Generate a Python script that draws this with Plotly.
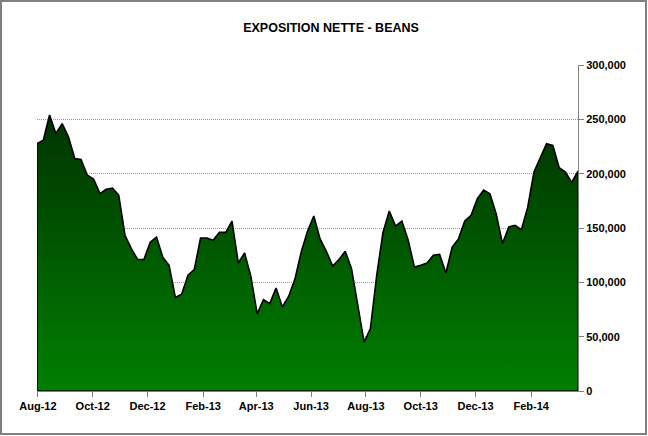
import plotly.graph_objects as go
import pandas as pd

title_text = "EXPOSITION NETTE - BEANS"
start_date = "2012-07-31"
values = [227600, 230700, 254000, 237000, 246000, 234000, 214000, 213000, 198500, 195000,
          181600, 185600, 186800, 180000, 143000, 131000, 121000, 121000, 137000, 141700,
          123000, 115700, 86000, 89000, 106500, 111700, 140800, 140800, 138700, 146000,
          146000, 156400, 117800, 127000, 105500, 71000, 84000, 80400, 94800, 77300,
          87000, 103000, 128000, 147000, 161000, 140000, 128500, 115000, 121000, 128500,
          112600, 77300, 45000, 57400, 106500, 146000, 165600, 151800, 156400, 139000,
          114000, 115700, 117800, 124900, 125800, 108600, 132500, 140000, 156400, 161700,
          177000, 185000, 181600, 163000, 135600, 151000, 152500, 148500, 169000, 201500,
          215000, 227600, 226000, 205600, 201500, 192000, 202400]
dates = list(pd.date_range(start_date, periods=len(values), freq="7D"))

x_tick_vals = ["2012-08-01", "2012-10-01", "2012-12-01", "2013-02-01", "2013-04-01",
               "2013-06-01", "2013-08-01", "2013-10-01", "2013-12-01", "2014-02-01"]
x_tick_text = ["Aug-12", "Oct-12", "Dec-12", "Feb-13", "Apr-13",
               "Jun-13", "Aug-13", "Oct-13", "Dec-13", "Feb-14"]
y_tick_vals = [0, 50000, 100000, 150000, 200000, 250000, 300000]
y_tick_text = ["0", "50,000", "100,000", "150,000", "200,000", "250,000", "300,000"]

# closed polygon of the area (outline like the original)
poly_x = dates + [dates[-1], dates[0], dates[0]]
poly_y = values + [0, 0, values[0]]

fig = go.Figure()
fig.add_trace(go.Scatter(
    x=poly_x, y=poly_y, mode="lines", fill="toself",
    line=dict(color="black", width=1.6),
    fillgradient=dict(type="vertical",
                      colorscale=[[0, "#008000"], [1, "#003300"]]),
    hoverinfo="skip", showlegend=False,
))

W, H = 648, 436
L, R, T, B = 37, 70, 65, 45
pw, ph = W - L - R, H - T - B

def px2paper_x(p):
    return (p - L) / pw

def px2paper_y(p):
    return (H - B - p) / ph

fig.add_shape(type="rect", xref="paper", yref="paper",
              x0=px2paper_x(1), x1=px2paper_x(W - 2),
              y0=px2paper_y(H - 2), y1=px2paper_y(1),
              line=dict(color="#808080", width=2), layer="below")

fig.update_layout(
    width=W, height=H,
    margin=dict(l=L, r=R, t=T, b=B),
    paper_bgcolor="white", plot_bgcolor="white",
    title=dict(text=title_text, x=px2paper_x(331), xref="paper",
               y=1 - 28 / H, yanchor="middle", xanchor="center",
               font=dict(family="Liberation Sans, Arial", size=12.5, color="black", weight="bold")),
    font=dict(family="Liberation Sans, Arial", size=11, color="black"),
    xaxis=dict(
        type="date",
        range=[dates[0], dates[-1]],
        tickvals=x_tick_vals, ticktext=x_tick_text,
        ticks="outside", ticklen=5, tickcolor="#808080",
        showline=True, linecolor="#808080", linewidth=1,
        showgrid=False, zeroline=False,
        tickfont=dict(family="Liberation Sans, Arial", size=11, color="black", weight="bold"),
    ),
    yaxis=dict(
        side="right",
        range=[0, 300000],
        tickvals=y_tick_vals, ticktext=y_tick_text,
        ticks="outside", ticklen=5, tickcolor="#808080",
        showline=True, linecolor="#808080", linewidth=1,
        showgrid=True, gridcolor="#999999", griddash="1px,1px", gridwidth=1,
        zeroline=False,
        tickfont=dict(family="Liberation Sans, Arial", size=11, color="black", weight="bold"),
    ),
)

fig.write_html("out.html", config={"displayModeBar": False},
               post_script="document.body.style.margin='0';document.body.style.padding='0';")
